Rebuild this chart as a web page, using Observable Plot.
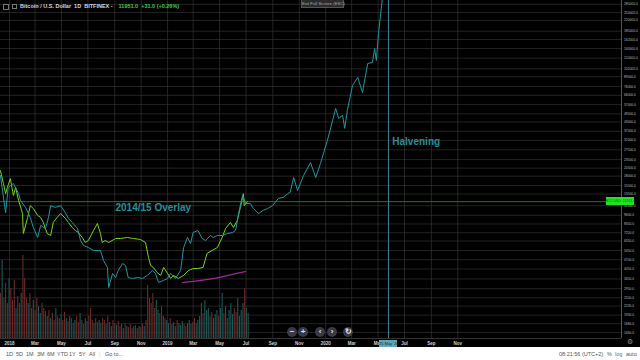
<!DOCTYPE html>
<html><head><meta charset="utf-8">
<script src="https://cdn.jsdelivr.net/npm/d3@7"></script>
<script src="https://cdn.jsdelivr.net/npm/@observablehq/plot@0.6"></script>
<style>
html,body{margin:0;padding:0;background:#fff;width:640px;height:360px;overflow:hidden;font-family:"Liberation Sans",Arial,sans-serif;}
#chart{position:relative;width:640px;height:347px;background:#000;overflow:hidden;}
#chart svg{position:absolute;left:0;top:0;}
.ov{position:absolute;white-space:nowrap;}
#hdr{left:4px;top:3px;font-size:5.5px;color:#d8d8d8;font-weight:bold;}
#hdr .ico{display:inline-block;width:4px;height:4px;border:1px solid #777;margin-right:3px;vertical-align:middle;}
#hdr .px{color:#3fcf3f;margin-left:6px;}
#exit{left:301px;top:-1px;width:41px;height:7px;background:#2b2b2b;border:1px solid #555;color:#aaa;font-size:4.3px;line-height:7px;text-align:center;}
.nav{width:10px;height:10px;border-radius:50%;background:#363b47;color:#e0e0e0;font-size:8px;line-height:10px;text-align:center;font-weight:bold;}
#pl{background:#1ee61e;color:#063;font-size:3.6px;line-height:8px;height:8px;width:28px;text-align:center;}
#dl{background:#5fa6bd;color:#0d2a33;font-size:4px;line-height:7px;height:7px;width:18px;text-align:center;}
#gear{left:627px;top:339px;color:#888;font-size:7px;}
#footer{position:relative;width:640px;height:13px;background:#fff;font-size:5.5px;color:#555;}
#footer span{position:absolute;top:4px;white-space:nowrap;}
</style></head><body>
<div id="chart"></div>
<div id="footer"></div>
<script>
// ---------- data ----------
const overlayDates = ["2017-12-11","2017-12-23","2017-12-29","2018-01-10","2018-01-22","2018-01-26","2018-02-07","2018-02-18","2018-02-25","2018-03-07","2018-03-14","2018-03-25","2018-04-01","2018-04-06","2018-04-17","2018-04-29","2018-05-10","2018-05-17","2018-05-26","2018-06-07","2018-06-14","2018-06-21","2018-07-02","2018-07-14","2018-07-30","2018-08-06","2018-08-15","2018-08-18","2018-08-27","2018-09-03","2018-09-09","2018-09-19","2018-09-26","2018-10-02","2018-10-12","2018-10-24","2018-11-04","2018-11-15","2018-11-27","2018-12-04","2018-12-11","2018-12-23","2019-01-01","2019-01-08","2019-01-19","2019-01-31","2019-02-07","2019-02-16","2019-02-23","2019-03-01","2019-03-12","2019-03-22","2019-03-30","2019-04-10","2019-04-16","2019-04-26","2019-05-07","2019-05-19","2019-05-31","2019-06-07","2019-06-13","2019-06-23","2019-06-30","2019-07-11","2019-07-18","2019-07-30","2019-08-10","2019-08-20","2019-08-31","2019-09-14","2019-09-25","2019-10-05","2019-10-11","2019-10-19","2019-10-28","2019-11-11","2019-11-27","2019-12-09","2019-12-20","2020-01-05","2020-01-17","2020-01-24","2020-01-31","2020-02-09","2020-02-14","2020-02-20","2020-03-03","2020-03-15","2020-03-26","2020-04-07","2020-04-18","2020-04-23","2020-04-27","2020-05-02","2020-05-13"];
const overlayPrices = [18200,10000,15000,16000,13600,12200,10900,9270,7890,6720,8150,7770,9270,11200,10900,11200,10000,9120,8550,7770,6400,5910,5720,5450,5450,4640,4150,3000,3770,3530,3950,4420,4280,3530,3480,3530,3480,3650,3950,3770,3260,3370,3480,3770,3480,3950,5720,6720,6100,7280,7520,6610,6400,6940,6720,6940,6940,7160,7280,7520,9570,13200,11600,11600,10700,9880,10400,10700,11200,12600,12800,13600,13900,17600,14300,18200,22400,17600,22100,32000,44100,53500,45500,47800,38800,51800,77400,88000,69100,110000,112000,140000,115600,178500,360000];

const btcDates = ["2017-12-11","2017-12-18","2017-12-23","2017-12-27","2018-01-03","2018-01-10","2018-01-15","2018-01-22","2018-01-31","2018-02-02","2018-02-12","2018-02-18","2018-02-25","2018-03-07","2018-03-14","2018-03-20","2018-03-29","2018-04-06","2018-04-12","2018-04-21","2018-04-29","2018-05-10","2018-05-17","2018-05-26","2018-06-02","2018-06-09","2018-06-18","2018-06-25","2018-07-02","2018-07-14","2018-07-23","2018-07-30","2018-08-03","2018-08-10","2018-08-18","2018-09-03","2018-09-14","2018-09-30","2018-10-14","2018-10-30","2018-11-11","2018-11-18","2018-11-23","2018-11-29","2018-12-08","2018-12-16","2018-12-23","2019-01-01","2019-01-08","2019-01-14","2019-01-26","2019-02-07","2019-02-18","2019-03-01","2019-03-12","2019-03-24","2019-04-02","2019-04-14","2019-04-26","2019-05-07","2019-05-15","2019-05-26","2019-06-02","2019-06-11","2019-06-18","2019-06-25","2019-06-27","2019-07-04"];
const btcPrices = [19700,16000,13600,15000,17300,13200,15000,12200,9880,7160,9270,11200,10700,9570,9270,8550,7160,6940,8550,9270,9880,9120,8550,7890,7520,7280,6720,6200,6400,7520,8410,7160,6200,6400,6200,6610,6610,6720,6610,6510,6200,4870,4280,4150,3820,3650,4150,3770,3480,3650,3480,3650,3950,4080,4080,4150,5200,5450,5720,6720,7770,8550,7890,8830,10900,13600,11200,11951];

const maDates = ["2019-02-04","2019-03-18","2019-05-03","2019-06-07","2019-06-30"];
const maPrices = [3260,3370,3530,3770,3890];

const lastPrice = 11951.0;
const halvingDate = "2020-05-25";

// volume (thousand BTC), one bar every 4 days from volStart
const volStart = "2017-12-11";
const volumes = [45,78,40,55,35,60, 50,38,58,30,42,35, 45,83,60,40,
  35,45,30,38,28,40,32,25,35,30,27,
  22,28,20,25,18,30,22,20,24,18,26,20,17,22,
  20,15,18,22,16,25,18,14,20,17,22,30,18,15,20,16,18,
  15,20,18,14,22,16,12,18,15,13,17,12,14,10,15,12,11,14,10,12,13,10,12,11,14,12,18,
  53,40,35,45,30,38,28,25,32,22,20,
  18,15,20,14,16,12,18,15,13,17,14,12,15,18,14,16,20,15,18,22,
  35,25,38,28,30,22,26,20,24,
  28,22,30,45,25,32,20,28,35,24,30,26,40,22,28,35,50,30,25];
const volDirection = "dudddudddudduddd" + "uddudduudddududdudduddudu" + "duuddudduudddudduuddudduddudduddudddudduddud" + "ddddduuddud" + "uuduudduuudduuudduuuuduuudduuuduududuuudduuuuduu";

const yTicks = [285000,250000,220000,185000,162000,140000,120000,101000,89000,76000,66000,57000,49000,43000,37000,32000,27500,23500,20500,18000,15500,13500,11200,9600,8350,7250,6350,5450,4700,4050,3450,2950,2550,2230,1930,1680,1460];
const xTickDates = ["2018-01-01","2018-03-01","2018-05-01","2018-07-01","2018-09-01","2018-11-01","2019-01-01","2019-03-01","2019-05-01","2019-07-01","2019-09-01","2019-11-01","2020-01-01","2020-03-01","2020-05-01","2020-07-01","2020-09-01","2020-11-01"];
const xTickLabels = ["2018","Mar","May","Jul","Sep","Nov","2019","Mar","May","Jul","Sep","Nov","2020","Mar","May","Jul","Sep","Nov"];

const xDomain = [new Date("2017-12-11T05:00:00Z"), new Date("2021-11-14T00:00:00Z")];
const yDomain = [1325, 303000];

// ---------- build tables ----------
const P = s => new Date(s + "T00:00:00Z");
const overlay = overlayDates.map((d, i) => ({date: P(d), price: overlayPrices[i]}));
const btc = btcDates.map((d, i) => ({date: P(d), price: btcPrices[i]}));
const ma = maDates.map((d, i) => ({date: P(d), price: maPrices[i]}));
const vol = volumes.map((v, i) => ({date: d3.utcDay.offset(P(volStart), 4 * i), vol: v, up: (volDirection[i] || "u") === "u"}));
const xTicks = xTickDates.map(P);
const tickLabel = new Map(xTicks.map((d, i) => [+d, xTickLabels[i]]));

const W = 640, H = 347, common = {width: W, height: H, marginLeft: 0, marginRight: 19, marginTop: 0, marginBottom: 9};
const chart = document.getElementById("chart");
const FONT = "Liberation Sans, Arial, sans-serif";

// volume layer
const volPlot = Plot.plot({
  ...common,
  style: {background: "transparent"},
  x: {type: "time", domain: xDomain, axis: null},
  y: {domain: [0, 338], axis: null},
  marks: [
    Plot.ruleX(vol.filter(d => !d.up), {x: "date", y1: 0, y2: "vol", stroke: "#a8403f", strokeOpacity: 0.65, strokeWidth: 1.1}),
    Plot.ruleX(vol.filter(d => d.up), {x: "date", y1: 0, y2: "vol", stroke: "#2a8c88", strokeOpacity: 0.65, strokeWidth: 1.1})
  ]
});
chart.appendChild(volPlot);

// price layer
const pricePlot = Plot.plot({
  ...common,
  style: {background: "transparent", color: "#c8c8c8", fontFamily: FONT, fontSize: "5px"},
  x: {type: "time", domain: xDomain},
  y: {type: "log", domain: yDomain, axis: null},
  marks: [
    Plot.gridY(yTicks, {stroke: "#3a3a3a", strokeOpacity: 0.6}),
    Plot.gridX(xTicks, {stroke: "#3a3a3a", strokeOpacity: 0.6}),
    Plot.ruleX([xDomain[1]], {stroke: "#555"}),
    Plot.ruleY([yDomain[0]], {stroke: "#333"}),
    Plot.ruleY([lastPrice], {stroke: "#1d7a1d", strokeWidth: 1}),
    Plot.ruleX([P(halvingDate)], {stroke: "#3f7f92", strokeWidth: 1}),
    Plot.line(ma, {x: "date", y: "price", stroke: "#a02a9a", strokeWidth: 1.2, curve: "basis"}),
    Plot.line(btc, {x: "date", y: "price", stroke: "#78d41e", strokeWidth: 1}),
    Plot.line(overlay, {x: "date", y: "price", stroke: "#2596a0", strokeWidth: 1, clip: true}),
    Plot.text([{date: P("2018-11-29"), price: 10900, t: "2014/15 Overlay"}], {x: "date", y: "price", text: "t", fill: "#2a8e99", fontSize: 10, fontWeight: "bold", fontFamily: FONT}),
    Plot.text([{date: P("2020-07-28"), price: 31400, t: "Halvening"}], {x: "date", y: "price", text: "t", fill: "#2a8e99", fontSize: 10, fontWeight: "bold", fontFamily: FONT}),
    Plot.text(yTicks, {y: d => d, text: d => d.toFixed(1), frameAnchor: "right", dx: 2.5, textAnchor: "start", fill: "#bdbdbd", fontSize: 3.3, fontFamily: FONT}),
    Plot.axisX({ticks: xTicks, tickSize: 0, tickPadding: 3, tickFormat: d => tickLabel.get(+d) || "", fill: "#d0d0d0", fontSize: 4.5, fontWeight: "bold"})
  ]
});
chart.appendChild(pricePlot);

const sx = pricePlot.scale("x"), sy = pricePlot.scale("y");
function add(id, html, left, top) {
  const el = document.createElement("div");
  el.className = "ov"; if (id) el.id = id;
  el.innerHTML = html;
  el.style.left = left + "px"; el.style.top = top + "px";
  chart.appendChild(el); return el;
}
add("hdr", '<span class="ico"></span><span class="ico" style="width:3px;height:3px"></span>Bitcoin / U.S. Dollar&nbsp;&nbsp;1D&nbsp;&nbsp;BITFINEX&nbsp;-<span class="px">11951.0&nbsp;&nbsp;+31.0 (+0.26%)</span>', 3, 3);
add("exit", "Exit Full Screen (ESC)", 301, -1);
const navGlyphs = ["−", "+", "‹", "›", "↻"];
const navX = [287, 298, 315, 327, 343];
navGlyphs.forEach((g, i) => { const e = add(null, g, navX[i], 327); e.classList.add("nav"); });
add("pl", "BTCUSD&nbsp;&nbsp;" + lastPrice.toFixed(1), 606, Math.round(sy.apply(lastPrice)) - 4);
const hx = sx.apply(P(halvingDate));
add("dl", "25 May '20", Math.round(hx) - 9, 340);
add("gear", "⚙", 627, 338);

const footer = document.getElementById("footer");
const fItems = [["1D",6],["5D",16],["1M",26],["3M",37],["6M",47],["YTD",57],["1Y",69],["5Y",79],["All",89],["|",99],["Go to...",105],["08:21:56 (UTC+2)",559],["|",602],["%",607],["log",615],["auto",626]];
fItems.forEach(([t, x]) => { const s = document.createElement("span"); s.textContent = t; s.style.left = x + "px"; if (t === "log") s.style.color = "#2f7de1"; if (t === "|") s.style.color = "#ccc"; footer.appendChild(s); });
</script>
</body></html>
